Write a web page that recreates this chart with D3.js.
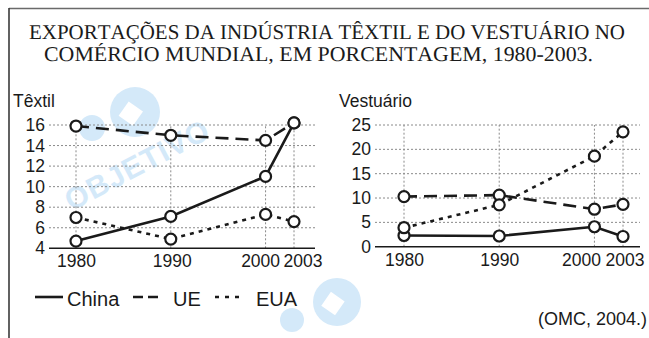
<!DOCTYPE html>
<html>
<head>
<meta charset="utf-8">
<script src="https://cdn.jsdelivr.net/npm/d3@7/dist/d3.min.js"></script>
<style>
  html, body { margin: 0; padding: 0; background: #fff; }
  svg { display: block; }
  .sans { font-family: "Liberation Sans", Arial, Helvetica, sans-serif; fill: #1a1a1a; }
  .serif { font-family: "Liberation Serif", "Times New Roman", serif; fill: #1a1a1a;
           font-kerning: none; text-rendering: geometricPrecision; }
</style>
</head>
<body>
<svg id="chart" width="649" height="338"></svg>
<script>
// Export shares (% of world trade), 1980-2003
const years = [1980, 1990, 2000, 2003];
const seriesNames = ["China", "UE", "EUA"];

// Têxtil
const textilChina = [4.7, 7.1, 11.0, 16.2];
const textilUE    = [15.9, 15.0, 14.5, 16.2];
const textilEUA   = [7.0, 4.9, 7.3, 6.6];
const textilTicks = [4, 6, 8, 10, 12, 14, 16];

// Vestuário
const vestChina = [2.3, 2.2, 4.1, 2.1];
const vestUE    = [10.3, 10.6, 7.7, 8.7];
const vestEUA   = [3.9, 8.6, 18.6, 23.6];
const vestTicks = [0, 5, 10, 15, 20, 25];

const titleLines = [
  "EXPORTAÇÕES DA INDÚSTRIA TÊXTIL E DO VESTUÁRIO NO",
  "COMÉRCIO MUNDIAL, EM PORCENTAGEM, 1980-2003."
];
const sourceText = "(OMC, 2004.)";

const svg = d3.select("#chart");
const ink = "#1a1a1a";
const dashStyles = { China: null, UE: "13,7", EUA: "4,5" };

// faint publisher mark in the background
const wmColor = "#d4e9f9";
function logo(cx, cy, r, sx, sy, sr) {
  svg.append("circle").attr("cx", cx).attr("cy", cy).attr("r", r).attr("fill", wmColor);
  svg.append("rect").attr("x", cx - r * 0.45).attr("y", cy - r * 0.2).attr("width", r * 0.7).attr("height", r * 0.7)
    .attr("transform", `rotate(35, ${cx}, ${cy})`).attr("fill", "#fff");
  svg.append("circle").attr("cx", sx).attr("cy", sy).attr("r", sr).attr("fill", wmColor);
}
logo(135, 112, 25, 92, 128, 13);
logo(337, 302, 24, 292, 320, 12);
svg.append("text")
  .attr("transform", "translate(142,174) rotate(-28)")
  .attr("text-anchor", "middle")
  .attr("font-family", "Liberation Sans, Arial, sans-serif").attr("font-weight", "bold")
  .attr("font-size", 30).attr("letter-spacing", 1).attr("fill", wmColor).text("OBJETIVO");

// frame
svg.append("line").attr("x1", 9).attr("x2", 649).attr("y1", 8.5).attr("y2", 8.5)
  .attr("stroke", "#6a6a6a").attr("stroke-width", 1.6);
svg.append("line").attr("x1", 9).attr("x2", 9).attr("y1", 8).attr("y2", 338)
  .attr("stroke", "#3a3a3a").attr("stroke-width", 1.6);

// title: serif, narrowed horizontally to fit its line
const titleSpec = [
  { cx: 327, y: 38.5, len: 596 },
  { cx: 318.5, y: 61, len: 549 }
];
titleLines.forEach((t, i) => {
  const s = titleSpec[i];
  const g = svg.append("g");
  const txt = g.append("text").attr("class", "serif")
    .attr("x", 0).attr("y", 0).attr("text-anchor", "middle").attr("font-size", 21)
    .text(t.normalize("NFC"));
  const w = txt.node().getComputedTextLength();
  g.attr("transform", `translate(${s.cx},${s.y}) scale(${s.len / w},1)`);
});

function panel(opts) {
  const { label, labelX, xRange, yDomain, yRange, ticks, axisX, data, xLabelPos } = opts;
  const x = d3.scaleLinear().domain([1980, 2003]).range(xRange);
  const y = d3.scaleLinear().domain(yDomain).range(yRange);
  const g = svg.append("g");

  // dotted grid
  ticks.slice(1).forEach(t => {
    g.append("line").attr("x1", axisX[0]).attr("x2", axisX[1]).attr("y1", y(t)).attr("y2", y(t))
      .attr("stroke", "#8a8a8a").attr("stroke-width", 1).attr("stroke-dasharray", "2,2");
  });
  years.forEach(yr => {
    g.append("line").attr("x1", x(yr)).attr("x2", x(yr)).attr("y1", y(yDomain[0])).attr("y2", y(yDomain[1]))
      .attr("stroke", "#8a8a8a").attr("stroke-width", 1).attr("stroke-dasharray", "2,2");
  });

  // baseline
  g.append("line").attr("x1", axisX[0]).attr("x2", axisX[1])
    .attr("y1", y(yDomain[0])).attr("y2", y(yDomain[0]))
    .attr("stroke", ink).attr("stroke-width", 1.6);

  // y tick labels
  const yAxis = d3.axisLeft(y).tickValues(ticks).tickSize(0).tickPadding(0);
  const ya = g.append("g").attr("transform", `translate(${axisX[0] - 4},0)`).call(yAxis);
  ya.select(".domain").remove();
  ya.selectAll("text").attr("class", "sans").attr("font-size", 17.5).attr("font-family", null).attr("fill", ink);

  // x tick labels; the last two years sit close, so they are nudged apart
  const xAxis = d3.axisBottom(x).tickValues(years).tickFormat(d3.format("d")).tickSize(0).tickPadding(0);
  const xa = g.append("g").attr("transform", `translate(0,${y(yDomain[0]) + 6})`).call(xAxis);
  xa.select(".domain").remove();
  xa.selectAll("text").attr("class", "sans").attr("font-size", 17.5).attr("font-family", null).attr("fill", ink)
    .attr("dy", "0.75em")
    .attr("text-anchor", (d, i) => xLabelPos[i].anchor)
    .attr("x", (d, i) => xLabelPos[i].dx);

  // panel label
  g.append("text").attr("class", "sans").attr("x", labelX).attr("y", 107).attr("font-size", 17.5).text(label);

  // series
  const line = d3.line().x((d, i) => x(years[i])).y(d => y(d));
  data.forEach(s => {
    g.append("path").datum(s.values).attr("d", line)
      .attr("fill", "none").attr("stroke", ink).attr("stroke-width", 2.6)
      .attr("stroke-dasharray", dashStyles[s.name]);
  });
  data.forEach(s => {
    g.selectAll(null).data(s.values).enter().append("circle")
      .attr("cx", (d, i) => x(years[i])).attr("cy", d => y(d)).attr("r", 5.5)
      .attr("fill", "#fff").attr("stroke", ink).attr("stroke-width", 2.2);
  });
}

panel({
  label: "Têxtil", labelX: 13,
  xRange: [76, 294], yDomain: [4, 16], yRange: [248.3, 125],
  ticks: textilTicks, axisX: [49, 315],
  xLabelPos: [
    { anchor: "middle", dx: 0 }, { anchor: "middle", dx: 1 },
    { anchor: "end", dx: 14 }, { anchor: "start", dx: -11 }
  ],
  data: [
    { name: "China", values: textilChina },
    { name: "UE", values: textilUE },
    { name: "EUA", values: textilEUA }
  ]
});

panel({
  label: "Vestuário", labelX: 339,
  xRange: [404, 623], yDomain: [0, 25], yRange: [246.7, 125],
  ticks: vestTicks, axisX: [375, 640],
  xLabelPos: [
    { anchor: "middle", dx: 0 }, { anchor: "middle", dx: 0 },
    { anchor: "end", dx: 6 }, { anchor: "start", dx: -18 }
  ],
  data: [
    { name: "China", values: vestChina },
    { name: "UE", values: vestUE },
    { name: "EUA", values: vestEUA }
  ]
});

// legend
const legendSpec = [
  { x1: 35, x2: 63, tx: 67 },
  { x1: 133, x2: 158, tx: 173 },
  { x1: 215, x2: 240, tx: 256 }
];
const legendDash = { China: null, UE: "10,5", EUA: "4,6" };
seriesNames.forEach((name, i) => {
  const s = legendSpec[i];
  svg.append("line").attr("x1", s.x1).attr("x2", s.x2).attr("y1", 297).attr("y2", 297)
    .attr("stroke", ink).attr("stroke-width", 2.6).attr("stroke-dasharray", legendDash[name]);
  svg.append("text").attr("class", "sans").attr("x", s.tx).attr("y", 306)
    .attr("font-size", 20).text(name);
});

// source
svg.append("text").attr("class", "sans").attr("x", 647).attr("y", 325)
  .attr("text-anchor", "end").attr("font-size", 18).text(sourceText);
</script>
</body>
</html>
